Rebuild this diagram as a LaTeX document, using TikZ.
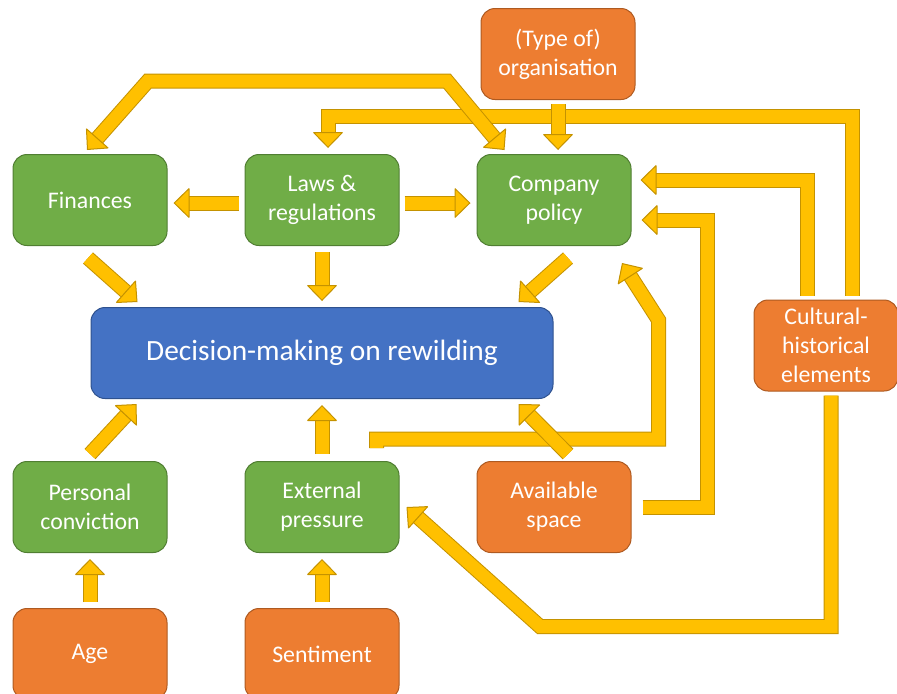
\documentclass[tikz,border=0pt]{standalone}
\usepackage{fontspec}
\setmainfont{Carlito}
\usetikzlibrary{arrows.meta, positioning, calc}
\definecolor{factorGreen}{RGB}{112,173,71}
\definecolor{factorGreenDark}{RGB}{80,126,50}
\definecolor{driverOrange}{RGB}{237,125,49}
\definecolor{driverOrangeDark}{RGB}{174,90,33}
\definecolor{coreBlue}{RGB}{68,114,196}
\definecolor{coreBlueDark}{RGB}{47,82,143}
\definecolor{arrowYellow}{RGB}{255,192,0}
\definecolor{arrowEdge}{RGB}{196,146,0}

\tikzset{
    blktip/.tip={Triangle[length=8pt, width=15.5pt, fill=arrowYellow, color=arrowEdge, line width=0.5pt]}
}

\begin{document}
\begin{tikzpicture}[
    x=0.5pt, y=-0.5pt,
    node distance=27.5pt and 38.5pt,
    box/.style={rectangle, draw, rounded corners=7pt, minimum width=77pt, minimum height=45.5pt, text=white, align=center, line width=0.5pt, font=\fontsize{11.9}{14.5}\selectfont},
    factor/.style={box, fill=factorGreen, draw=factorGreenDark},
    driver/.style={box, fill=driverOrange, draw=driverOrangeDark},
    core/.style={box, fill=coreBlue, draw=coreBlueDark, minimum width=231pt, font=\fontsize{14.7}{17}\selectfont},
    band/.style={draw=arrowYellow, line width=6.5pt, miter limit=2},
    arrow/.style={band, -blktip, preaction={draw=arrowEdge, line width=7.5pt, -, shorten >=6pt}},
    twoway/.style={band, blktip-blktip, preaction={draw=arrowEdge, line width=7.5pt, -, shorten >=6pt, shorten <=6pt}}
]
\useasboundingbox (0,0) rectangle (897,693);

\node[factor] (finances) at (90,200) {Finances};
\node[factor, right=of finances] (laws) {Laws \&\\regulations};
\node[factor, right=of laws] (policy) {Company\\policy};
\node[driver, above=27pt of policy, xshift=2pt] (organisation) {(Type of)\\organisation};
\node[core, below=30.5pt of laws] (decision) {Decision-making on rewilding};
\node[factor, below=31pt of decision] (pressure) {External\\pressure};
\node[factor, left=of pressure] (conviction) {Personal\\conviction};
\node[driver, right=of pressure] (space) {Available\\space};
\node[driver, below=of conviction] (age) {Age};
\node[driver, below=of pressure] (sentiment) {Sentiment};
\node[driver, minimum width=72pt] (culture) at (826,345.5) {Cultural-\\historical\\elements};

% long routes (under the short arrows)
\draw[arrow] ($(culture.north)+(26,-4)$) |- ($(laws.north)+(6,-38)$) -- ($(laws.north)+(6,-6)$);
\draw[arrow] ($(culture.north)+(-19,-4)$) |- ($(policy.east)+(9,-20)$);
\draw[arrow] ($(space.east)+(11,0)$) -- ++(65,0) |- ($(policy.east)+(10,20)$);
\draw[arrow] ($(pressure.north east)+(-23,-13)$) -- ++(0,-9) -- ++(282,0) -- ++(0,-119) -- ($(policy.south)+(68,17)$);
\draw[arrow] ($(culture.south)+(5,4)$) -- ++(0,231) -- ++(-291,0) -- ($(pressure.east)+(7,0)$);

% top row
\draw[arrow] ($(laws.west)+(-6,3)$) -- ($(finances.east)+(6,3)$);
\draw[arrow] ($(laws.east)+(5,3)$) -- ($(policy.west)+(-6,3)$);
\draw[arrow] ($(organisation.south)+(0,4)$) -- ($(policy.north)+(4,-4)$);
\draw[twoway] ($(finances.north)+(-3,-4)$) -- (148,81) -- (447,81) -- ($(policy.north west)+(28,-4)$);

% into the decision
\draw[arrow] ($(laws.south)+(0,6)$) -- ($(decision.north)+(0,-6)$);
\draw[arrow] ($(finances.south)+(-2,12)$) -- ($(decision.north west)+(47,-5)$);
\draw[arrow] ($(policy.south)+(14,12)$) -- ($(decision.north east)+(-35,-5)$);
\draw[arrow] ($(conviction.north)+(0,-7)$) -- ($(decision.south west)+(46,5)$);
\draw[arrow] ($(pressure.north)+(0,-7)$) -- ($(decision.south)+(0,6)$);
\draw[arrow] ($(space.north)+(14,-7)$) -- ($(decision.south east)+(-35,5)$);

% bottom row
\draw[arrow] ($(age.north)+(0,-6)$) -- ($(conviction.south)+(0,6)$);
\draw[arrow] ($(sentiment.north)+(0,-6)$) -- ($(pressure.south)+(0,6)$);

\end{tikzpicture}
\end{document}
